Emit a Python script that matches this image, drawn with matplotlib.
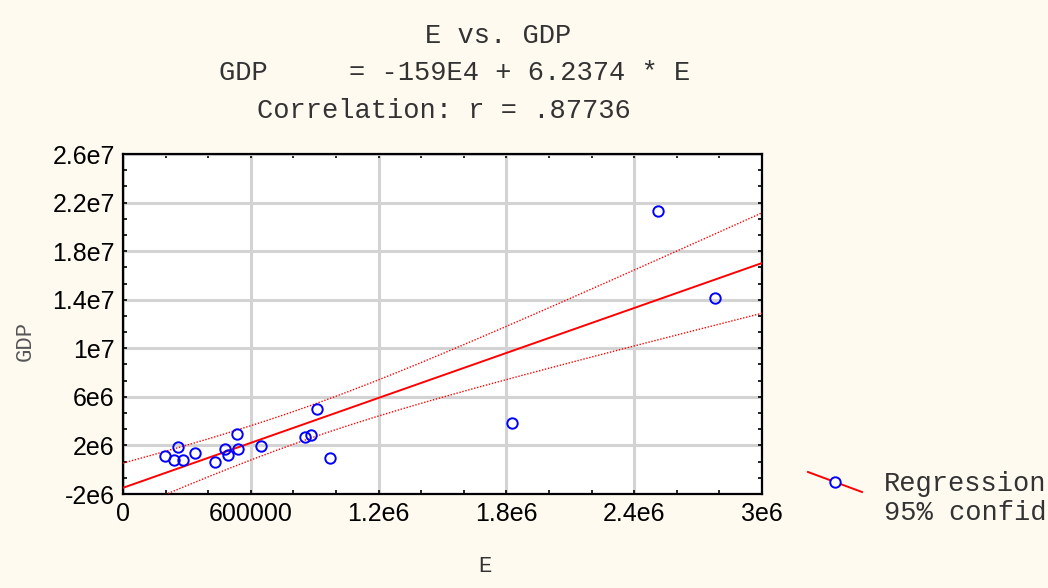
import numpy as np
import matplotlib
matplotlib.use('Agg')
import matplotlib.pyplot as plt
from matplotlib.ticker import FixedLocator, AutoMinorLocator
from matplotlib.lines import Line2D

# values
E = [197000, 239000, 258000, 282000, 338000, 432000, 479000, 493000, 535000,
     540000, 648000, 854000, 883000, 911000, 972000, 1826000, 2512000, 2779000]
GDP = [1.12e6, 0.79e6, 1.86e6, 0.79e6, 1.37e6, 0.63e6, 1.70e6, 1.20e6, 2.93e6,
       1.70e6, 1.94e6, 2.68e6, 2.84e6, 4.98e6, 0.96e6, 3.83e6, 2.132e7, 1.418e7]

x_ticks = [0, 600000, 1.2e6, 1.8e6, 2.4e6, 3e6]
x_labels = ['0', '600000', '1.2e6', '1.8e6', '2.4e6', '3e6']
y_ticks = [-2e6, 2e6, 6e6, 1e7, 1.4e7, 1.8e7, 2.2e7, 2.6e7]
y_labels = ['-2e6', '2e6', '6e6', '1e7', '1.4e7', '1.8e7', '2.2e7', '2.6e7']

title_lines = ['E vs. GDP', 'GDP     = -159E4 + 6.2374 * E', 'Correlation: r = .87736']
title_left = [425, 219, 257]  # pixel x where each title line starts
T_975 = 2.120  # t quantile, 16 df

bg = '#fffaf0'
mono = 'Liberation Mono'
sans = 'Liberation Sans'
W, H = 1048, 588

x = np.array(E, dtype=float)
y = np.array(GDP, dtype=float)
n = len(x)
b, a = np.polyfit(x, y, 1)
resid = y - (a + b * x)
s = np.sqrt(np.sum(resid ** 2) / (n - 2))
sxx = np.sum((x - x.mean()) ** 2)

xs = np.linspace(0, 3e6, 300)
fit = a + b * xs
half = T_975 * s * np.sqrt(1.0 / n + (xs - x.mean()) ** 2 / sxx)

fig = plt.figure(figsize=(10.48, 5.88), dpi=100, facecolor=bg)
ax = fig.add_axes([123 / W, 1 - 494 / H, 639 / W, 340 / H])
ax.set_facecolor('white')

ax.grid(True, color='#d3d3d3', linewidth=2.2, zorder=0)
ax.plot(xs, fit, color='red', linewidth=1.4, zorder=3)
ax.plot(xs, fit + half, color='red', linewidth=1.0, linestyle=(0, (1, 1.2)), zorder=3)
ax.plot(xs, fit - half, color='red', linewidth=1.0, linestyle=(0, (1, 1.2)), zorder=3)
ax.plot(x, y, linestyle='none', marker='o', markersize=7.5, markerfacecolor='none',
        markeredgecolor='blue', markeredgewidth=1.4, zorder=4)

ax.set_xlim(0, 3e6)
ax.set_ylim(-2e6, 2.6e7)
ax.xaxis.set_major_locator(FixedLocator(x_ticks))
ax.yaxis.set_major_locator(FixedLocator(y_ticks))
ax.set_xticklabels(x_labels, fontfamily=sans, fontsize=18)
ax.set_yticklabels(y_labels, fontfamily=sans, fontsize=18)
ax.xaxis.set_minor_locator(AutoMinorLocator(3))
ax.yaxis.set_minor_locator(AutoMinorLocator(3))
ax.tick_params(which='both', direction='in', length=3, width=1.2, top=True, right=True,
               color='black')
ax.tick_params(which='major', pad=6)
for sp in ax.spines.values():
    sp.set_linewidth(1.6)
    sp.set_color('black')

ax.set_xlabel('E', fontfamily=mono, fontsize=16, color='#333333')
ax.set_ylabel('GDP', fontfamily=mono, fontsize=16, color='#555555')
ax.xaxis.set_label_coords((485 - 123) / 639, (494 - 566) / 340)
ax.yaxis.set_label_coords((25 - 123) / 639, (494 - 341) / 340)
ax.xaxis.label.set_va('center')
ax.yaxis.label.set_va('center')

for i, line in enumerate(title_lines):
    fig.text(title_left[i] / W, 1 - (36 + 37.5 * i) / H, line, fontfamily=mono,
             fontsize=19.5, color='#333333', ha='left', va='center')

# legend outside the plot, cut by the figure edge
fig.add_artist(Line2D([808 / W, 862 / W], [1 - 472 / H, 1 - 492 / H],
                      transform=fig.transFigure, color='red', linewidth=1.4))
fig.add_artist(Line2D([835 / W], [1 - 482 / H], transform=fig.transFigure, marker='o',
                      markersize=7.5, markerfacecolor='white', markeredgecolor='blue',
                      markeredgewidth=1.4, linestyle='none'))
fig.text(884 / W, 1 - 484 / H, 'Regression', fontfamily=mono, fontsize=19.5,
         color='#333333', va='center', ha='left')
fig.text(884 / W, 1 - 513 / H, '95% confid', fontfamily=mono, fontsize=19.5,
         color='#333333', va='center', ha='left')

fig.savefig('out.png', dpi=100, facecolor=bg)
